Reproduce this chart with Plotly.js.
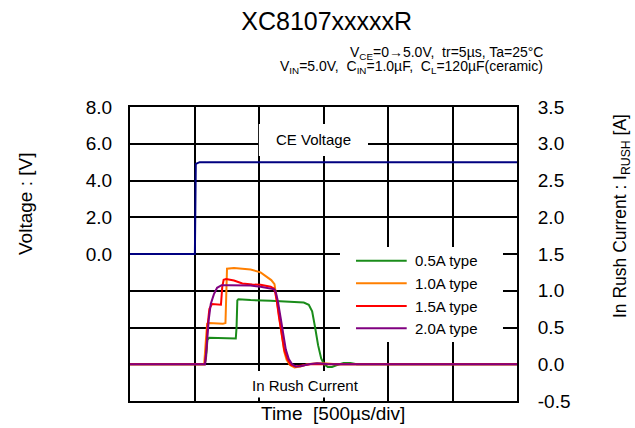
<!DOCTYPE html>
<html>
<head>
<meta charset="utf-8">
<script src="https://cdn.plot.ly/plotly-3.0.1.min.js"></script>
<style>html,body{margin:0;padding:0;background:#fff;}</style>
</head>
<body>
<div id="chart" style="width:635px;height:428px;"></div>
<script>
// ---- data (time in µs, 500 µs/div) ----
const ceTime = [0, 503, 510, 540, 3000];
const ceVoltage = [0, 0, 4.9, 5.0, 5.0];

const seriesNames = ["0.5A type", "1.0A type", "1.5A type", "2.0A type"];
const seriesColors = ["#1a8c1a", "#ff7f00", "#ff0000", "#800080"];

const t05 = [0, 580, 590, 600, 613, 700, 820, 826, 832, 840, 935, 1090, 1244, 1347, 1386, 1412, 1435, 1458, 1482, 1505, 1533, 1566, 1605, 1656, 1708, 1759, 3000];
const i05 = [0, 0, 0.1, 0.33, 0.36, 0.355, 0.35, 0.5, 0.87, 0.885, 0.873, 0.864, 0.855, 0.84, 0.81, 0.72, 0.5, 0.26, 0.08, 0, -0.036, -0.036, -0.01, 0.018, 0.018, 0, 0];

const t10 = [0, 575, 585, 598, 613, 720, 740, 746, 752, 806, 870, 935, 1012, 1064, 1095, 1120, 1133, 1148, 1160, 1176, 1196, 1214, 1240, 1275, 1321, 1373, 1450, 1527, 1600, 3000];
const i10 = [0, 0, 0.25, 0.55, 0.56, 0.55, 0.56, 1.05, 1.30, 1.31, 1.30, 1.29, 1.25, 1.18, 1.145, 1.09, 0.92, 0.75, 0.58, 0.36, 0.17, 0.06, -0.01, -0.045, -0.03, 0, 0.014, 0.01, 0, 0];

const t15 = [0, 580, 590, 600, 615, 635, 705, 715, 726, 745, 806, 871, 948, 1012, 1090, 1115, 1125, 1138, 1155, 1173, 1195, 1220, 1246, 1283, 1334, 1399, 3000];
const i15 = [0, 0, 0.15, 0.5, 0.75, 0.82, 0.81, 1.05, 1.15, 1.16, 1.14, 1.10, 1.085, 1.08, 1.055, 1.03, 0.98, 0.86, 0.64, 0.41, 0.2, 0.07, -0.01, -0.03, -0.02, 0, 0];

const t20 = [0, 582, 595, 610, 626, 650, 675, 710, 768, 870, 935, 1012, 1090, 1120, 1132, 1146, 1167, 1187, 1208, 1231, 1257, 1283, 1321, 1386, 1450, 1527, 1600, 3000];
const i20 = [0, 0, 0.25, 0.6, 0.82, 0.95, 1.04, 1.075, 1.075, 1.07, 1.07, 1.055, 1.036, 1.02, 0.97, 0.86, 0.64, 0.41, 0.2, 0.07, 0, -0.03, -0.027, 0, 0.014, 0.005, 0, 0];

const voltTicks = [0, 2, 4, 6, 8];
const voltTickText = ["0.0", "2.0", "4.0", "6.0", "8.0"];
const currTicks = [-0.5, 0, 0.5, 1.0, 1.5, 2.0, 2.5, 3.0, 3.5];
const currTickText = ["-0.5", "0.0", "0.5", "1.0", "1.5", "2.0", "2.5", "3.0", "3.5"];

const FONT = "Liberation Sans, Arial, Helvetica, sans-serif";

const curT = [t05, t10, t15, t20];
const curI = [i05, i10, i15, i20];

const traces = [{
  x: ceTime, y: ceVoltage, type: "scatter", mode: "lines",
  line: {color: "#000080", width: 2}, yaxis: "y", showlegend: false, name: "CE Voltage"
}];
for (let k = 0; k < 4; k++) {
  traces.push({
    x: curT[k], y: curI[k], type: "scatter", mode: "lines",
    line: {color: seriesColors[k], width: 2}, yaxis: "y2",
    name: seriesNames[k], showlegend: false
  });
}

// custom legend positions (paper coords)
const legYs = [0.4772, 0.4003, 0.3231, 0.2473];
const shapes = [
  {type: "rect", xref: "paper", yref: "paper", x0: 0.333, x1: 0.615, y0: 0.833, y1: 0.942,
   fillcolor: "#ffffff", line: {width: 0}, layer: "above"},
  {type: "rect", xref: "paper", yref: "paper", x0: 0.19, x1: 0.66, y0: 0.012, y1: 0.102,
   fillcolor: "#ffffff", line: {width: 0}, layer: "above"},
  {type: "rect", xref: "paper", yref: "paper", x0: 0.5426, x1: 0.9638, y0: 0.2007, y1: 0.5238,
   fillcolor: "#ffffff", line: {width: 0}, layer: "above"}
];
const annotations = [
  {text: "CE Voltage", xref: "paper", yref: "paper", x: 0.473, y: 0.888, showarrow: false,
   xanchor: "center", yanchor: "middle",
   font: {family: FONT, size: 15, color: "#000"}},
  {text: "In Rush Current", xref: "paper", yref: "paper", x: 0.454, y: 0.054, showarrow: false,
   xanchor: "center", yanchor: "middle",
   font: {family: FONT, size: 15, color: "#000"}},
  {text: "V<sub>CE</sub>=0\u21925.0V,\u00a0 tr=5\u00b5s, Ta=25\u00b0C", xref: "paper", yref: "paper",
   x: 1.0724, y: 1.184, xanchor: "right", yanchor: "middle", showarrow: false,
   font: {family: FONT, size: 14, color: "#000"}},
  {text: "V<sub>IN</sub>=5.0V,\u00a0 C<sub>IN</sub>=1.0\u00b5F,\u00a0 C<sub>L</sub>=120\u00b5F(ceramic)", xref: "paper", yref: "paper",
   x: 1.0724, y: 1.136, xanchor: "right", yanchor: "middle", showarrow: false,
   font: {family: FONT, size: 14, color: "#000"}},
  {text: "Voltage : [V]", xref: "paper", yref: "paper", x: (25 - 130) / 387, y: (401 - 204) / 294,
   textangle: -90, showarrow: false, xanchor: "center", yanchor: "middle",
   font: {family: FONT, size: 19, color: "#000"}},
  {text: "In Rush Current : I<sub>RUSH</sub> [A]", xref: "paper", yref: "paper", x: (621 - 130) / 387, y: (401 - 216) / 294,
   textangle: -90, showarrow: false, xanchor: "center", yanchor: "middle",
   font: {family: FONT, size: 17.5, color: "#000"}},
  {text: "Time\u00a0 [500\u00b5s/div]", xref: "paper", yref: "paper", x: (333 - 130) / 387, y: (401 - 413) / 294,
   showarrow: false, xanchor: "center", yanchor: "middle",
   font: {family: FONT, size: 19, color: "#000"}}
];
for (let k = 0; k < 4; k++) {
  shapes.push({type: "line", xref: "paper", yref: "paper", x0: 0.584, x1: 0.715, y0: legYs[k], y1: legYs[k],
    line: {color: seriesColors[k], width: 2}, layer: "above"});
  annotations.push({text: seriesNames[k], xref: "paper", yref: "paper", x: 0.7305, y: legYs[k],
    xanchor: "left", yanchor: "middle", showarrow: false,
    font: {family: FONT, size: 15, color: "#000"}});
}

const layout = {
  width: 635, height: 428,
  margin: {l: 130, r: 118, t: 107, b: 27, pad: 0},
  paper_bgcolor: "#ffffff", plot_bgcolor: "#ffffff",
  font: {family: FONT, color: "#000"},
  showlegend: false,
  title: {text: "XC8107xxxxxR", xref: "container", yref: "container", x: 0.5145, y: 0.951,
          xanchor: "center", yanchor: "middle", font: {family: FONT, size: 25, color: "#000"}},
  xaxis: {range: [0, 3000], tick0: 0, dtick: 500, showticklabels: false, ticks: "",
          showgrid: true, gridcolor: "#000", gridwidth: 2, zeroline: false,
          showline: true, mirror: true, linecolor: "#000", linewidth: 2, fixedrange: true},
  yaxis: {range: [-8, 8], tickmode: "array", tickvals: voltTicks, ticktext: voltTickText,
          ticks: "outside", ticklen: 12, tickcolor: "rgba(0,0,0,0)",
          showgrid: false, zeroline: false,
          showline: true, mirror: true, linecolor: "#000", linewidth: 2,
          tickfont: {family: FONT, size: 19, color: "#000"}, fixedrange: true},
  yaxis2: {range: [-0.5, 3.5], overlaying: "y", side: "right", tickmode: "array",
           tickvals: currTicks, ticktext: currTickText,
           ticks: "outside", ticklen: 16, tickcolor: "rgba(0,0,0,0)",
           showgrid: true, gridcolor: "#000", gridwidth: 2, zeroline: false,
           showline: false, tickfont: {family: FONT, size: 19, color: "#000"}, fixedrange: true},
  shapes: shapes,
  annotations: annotations
};

Plotly.newPlot("chart", traces, layout, {staticPlot: true, displayModeBar: false});
</script>
</body>
</html>
